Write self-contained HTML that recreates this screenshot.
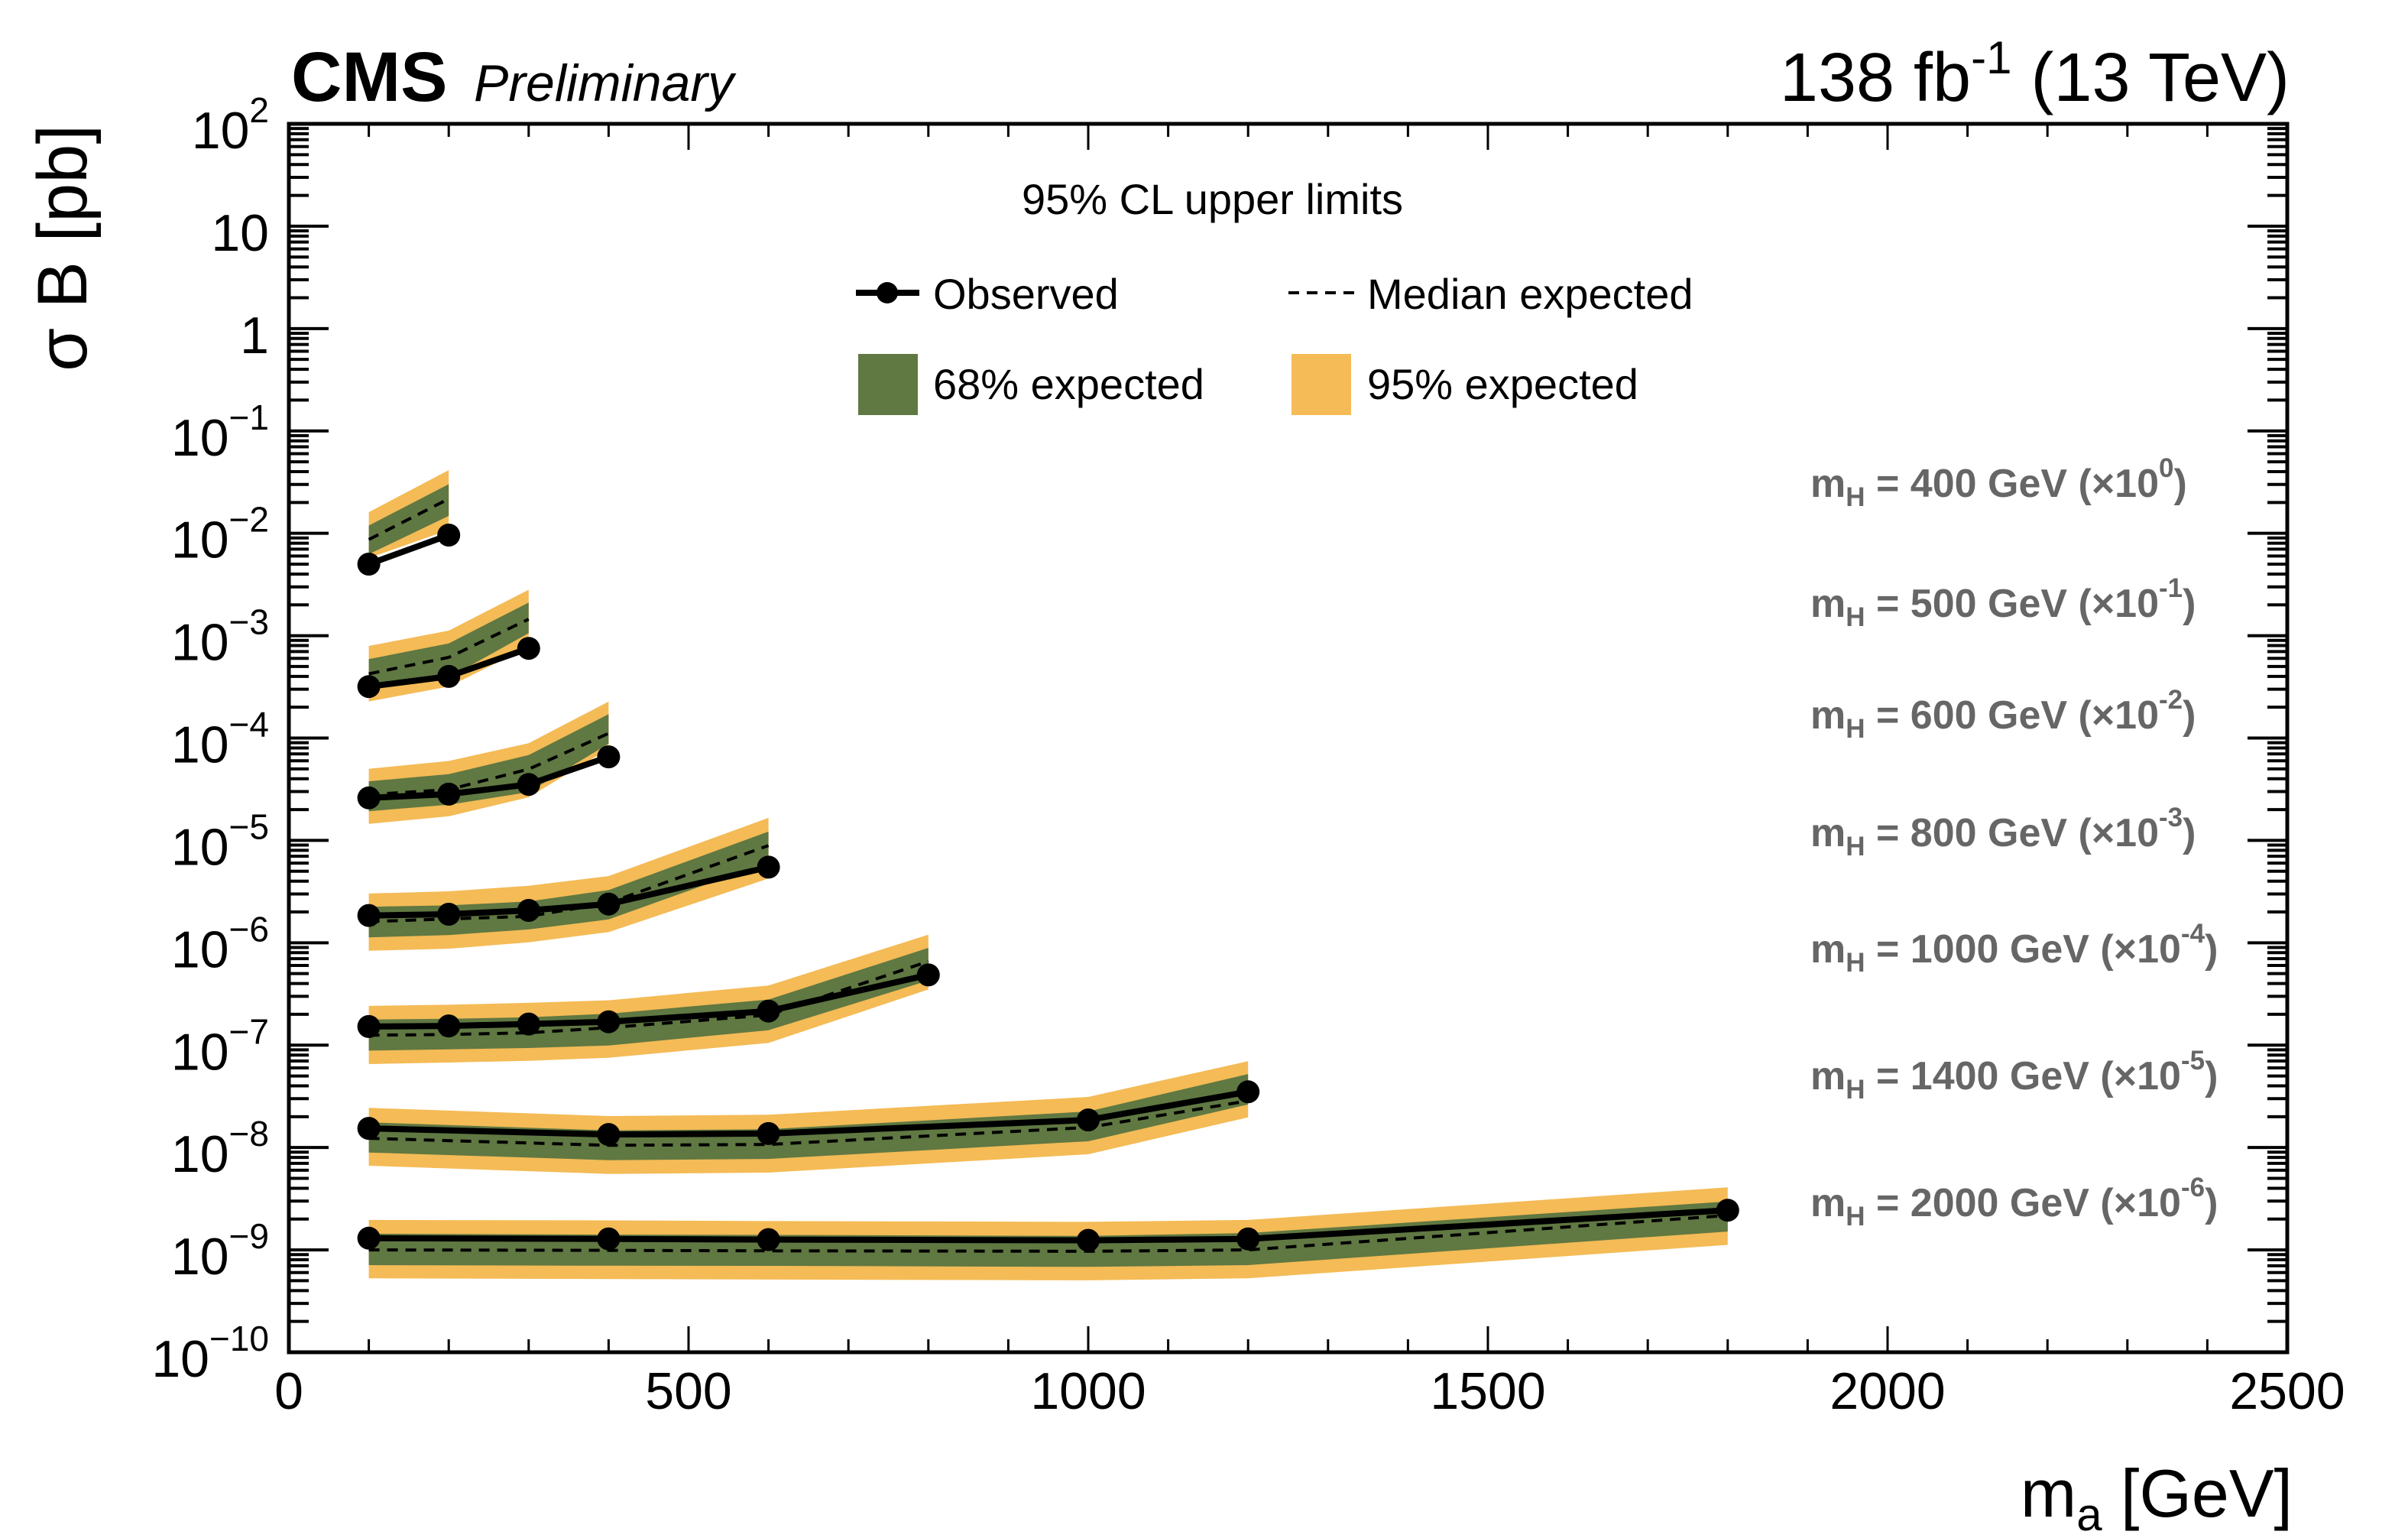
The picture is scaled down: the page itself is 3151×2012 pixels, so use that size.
<!DOCTYPE html>
<html><head><meta charset="utf-8">
<style>
html,body{margin:0;padding:0;background:#fff;}
svg{display:block;font-family:"Liberation Sans",Arial,sans-serif;}
</style></head>
<body>
<svg id="chart" width="3151" height="2012" viewBox="0 0 3151 2012" xmlns="http://www.w3.org/2000/svg">
<rect x="0" y="0" width="3151" height="2012" fill="#fff"/>
<g id="bands"></g>
<g id="lines"></g>
<g id="axes"></g>
<text x="381" y="132" font-size="92" font-weight="bold">CMS</text>
<text x="620" y="132" font-size="68" font-style="italic">Preliminary</text>
<text x="2996" y="132" font-size="90" text-anchor="end">138 fb<tspan font-size="60" dy="-36">-1</tspan><tspan dy="36"> (13 TeV)</tspan></text>
<text transform="translate(113,163) rotate(-90)" font-size="92" text-anchor="end">σ B [pb]</text>
<text x="3000" y="1984" font-size="88" text-anchor="end">m<tspan font-size="60" dy="18">a</tspan><tspan dy="-18">  [GeV]</tspan></text>
<g id="legend">
<text x="1337" y="280" font-size="56">95% CL upper limits</text>
<line x1="1120" y1="383" x2="1203" y2="383" stroke="#000" stroke-width="8"/>
<circle cx="1161" cy="383" r="14" fill="#000"/>
<text x="1221" y="404" font-size="56">Observed</text>
<line x1="1686" y1="383" x2="1772" y2="383" stroke="#000" stroke-width="4" stroke-dasharray="14,10"/>
<text x="1789" y="404" font-size="56">Median expected</text>
<rect x="1123" y="463" width="78" height="80" fill="#607842"/>
<text x="1221" y="522" font-size="56">68% expected</text>
<rect x="1690" y="463" width="78" height="80" fill="#f4bb56"/>
<text x="1789" y="522" font-size="56">95% expected</text>
</g>
<g fill="#666" font-weight="bold" font-size="52">
<text x="2369" y="650">m<tspan font-size="35" dy="12">H</tspan><tspan dy="-12"> = 400 GeV (×10</tspan><tspan font-size="35" dy="-26">0</tspan><tspan dy="26">)</tspan></text>
<text x="2369" y="807">m<tspan font-size="35" dy="12">H</tspan><tspan dy="-12"> = 500 GeV (×10</tspan><tspan font-size="35" dy="-26">-1</tspan><tspan dy="26">)</tspan></text>
<text x="2369" y="953">m<tspan font-size="35" dy="12">H</tspan><tspan dy="-12"> = 600 GeV (×10</tspan><tspan font-size="35" dy="-26">-2</tspan><tspan dy="26">)</tspan></text>
<text x="2369" y="1107">m<tspan font-size="35" dy="12">H</tspan><tspan dy="-12"> = 800 GeV (×10</tspan><tspan font-size="35" dy="-26">-3</tspan><tspan dy="26">)</tspan></text>
<text x="2369" y="1259">m<tspan font-size="35" dy="12">H</tspan><tspan dy="-12"> = 1000 GeV (×10</tspan><tspan font-size="35" dy="-26">-4</tspan><tspan dy="26">)</tspan></text>
<text x="2369" y="1425">m<tspan font-size="35" dy="12">H</tspan><tspan dy="-12"> = 1400 GeV (×10</tspan><tspan font-size="35" dy="-26">-5</tspan><tspan dy="26">)</tspan></text>
<text x="2369" y="1591">m<tspan font-size="35" dy="12">H</tspan><tspan dy="-12"> = 2000 GeV (×10</tspan><tspan font-size="35" dy="-26">-6</tspan><tspan dy="26">)</tspan></text>
</g>
</svg>
<script>
// ---- data (scaled cross-section limits, pb) ----
const seriesNames = ["mH400","mH500","mH600","mH800","mH1000","mH1400","mH2000"];
const mass400 = [100,200];
const obs400 = [5.0e-3,9.6e-3];
const exp400 = [8.7e-3,2.17e-2];
const lo68_400 = [6.25e-3,1.48e-2];
const hi68_400 = [1.19e-2,3.02e-2];
const lo95_400 = [5.74e-3,1.08e-2];
const hi95_400 = [1.61e-2,4.14e-2];

const mass500 = [100,200,300];
const obs500 = [3.18e-4,4.0e-4,7.52e-4];
const exp500 = [4.24e-4,6.14e-4,1.45e-3];
const lo68_500 = [3.37e-4,3.89e-4,1.06e-3];
const hi68_500 = [5.9e-4,8.4e-4,2.11e-3];
const lo95_500 = [2.28e-4,3.18e-4,7.76e-4];
const hi95_500 = [7.94e-4,1.12e-3,2.81e-3];

const mass600 = [100,200,300,400];
const obs600 = [2.6e-5,2.83e-5,3.52e-5,6.55e-5];
const exp600 = [2.8e-5,3.14e-5,4.97e-5,1.11e-4];
const lo68_600 = [1.93e-5,2.23e-5,2.96e-5,8.81e-5];
const hi68_600 = [3.78e-5,4.44e-5,6.81e-5,1.71e-4];
const lo95_600 = [1.45e-5,1.72e-5,2.64e-5,7.85e-5];
const hi95_600 = [5.01e-5,5.97e-5,8.91e-5,2.27e-4];

const mass800 = [100,200,300,400,600];
const obs800 = [1.85e-6,1.9e-6,2.07e-6,2.39e-6,5.48e-6];
const exp800 = [1.61e-6,1.71e-6,1.81e-6,2.45e-6,8.91e-6];
const lo68_800 = [1.13e-6,1.19e-6,1.35e-6,1.69e-6,6.14e-6];
const hi68_800 = [2.25e-6,2.32e-6,2.53e-6,3.27e-6,1.22e-5];
const lo95_800 = [8.36e-7,8.75e-7,1.01e-6,1.27e-6,4.24e-6];
const hi95_800 = [3.03e-6,3.18e-6,3.61e-6,4.48e-6,1.66e-5];

const mass1000 = [100,200,300,400,600,800];
const obs1000 = [1.52e-7,1.54e-7,1.61e-7,1.69e-7,2.15e-7,4.85e-7];
const exp1000 = [1.25e-7,1.27e-7,1.32e-7,1.48e-7,1.97e-7,6.58e-7];
const lo68_1000 = [8.85e-8,9.1e-8,9.38e-8,9.93e-8,1.4e-7,4.28e-7];
const hi68_1000 = [1.78e-7,1.81e-7,1.87e-7,2.03e-7,2.79e-7,8.91e-7];
const lo95_1000 = [6.53e-8,6.76e-8,7.03e-8,7.53e-8,1.05e-7,3.5e-7];
const hi95_1000 = [2.42e-7,2.48e-7,2.59e-7,2.74e-7,3.82e-7,1.2e-6];

const mass1400 = [100,400,600,1000,1200];
const obs1400 = [1.54e-8,1.34e-8,1.37e-8,1.86e-8,3.5e-8];
const exp1400 = [1.23e-8,1.05e-8,1.07e-8,1.57e-8,2.86e-8];
const lo68_1400 = [8.93e-9,7.53e-9,7.74e-9,1.15e-8,2.63e-8];
const hi68_1400 = [1.76e-8,1.47e-8,1.51e-8,2.25e-8,5.22e-8];
const lo95_1400 = [6.64e-9,5.52e-9,5.69e-9,8.59e-9,1.97e-8];
const hi95_1400 = [2.44e-8,2.03e-8,2.09e-8,3.12e-8,6.97e-8];

const mass2000 = [100,400,600,1000,1200,1800];
const obs2000 = [1.3e-9,1.28e-9,1.26e-9,1.24e-9,1.28e-9,2.44e-9];
const exp2000 = [1.0e-9,9.9e-10,9.8e-10,9.7e-10,1.0e-9,2.17e-9];
const lo68_2000 = [7.1e-10,7.0e-10,6.98e-10,6.82e-10,7.1e-10,1.51e-9];
const hi68_2000 = [1.44e-9,1.41e-9,1.4e-9,1.37e-9,1.46e-9,2.97e-9];
const lo95_2000 = [5.27e-10,5.19e-10,5.13e-10,5.04e-10,5.27e-10,1.12e-9];
const hi95_2000 = [1.96e-9,1.94e-9,1.91e-9,1.88e-9,1.96e-9,4.08e-9];

const xTickValues = [0,500,1000,1500,2000,2500];
const yTickExponents = [-10,-9,-8,-7,-6,-5,-4,-3,-2,-1,0,1,2];

const allSeries = [
 [mass400,obs400,exp400,lo68_400,hi68_400,lo95_400,hi95_400],
 [mass500,obs500,exp500,lo68_500,hi68_500,lo95_500,hi95_500],
 [mass600,obs600,exp600,lo68_600,hi68_600,lo95_600,hi95_600],
 [mass800,obs800,exp800,lo68_800,hi68_800,lo95_800,hi95_800],
 [mass1000,obs1000,exp1000,lo68_1000,hi68_1000,lo95_1000,hi95_1000],
 [mass1400,obs1400,exp1400,lo68_1400,hi68_1400,lo95_1400,hi95_1400],
 [mass2000,obs2000,exp2000,lo68_2000,hi68_2000,lo95_2000,hi95_2000]
];

// ---- axes ----
const X0=378, X1=2993, Y0=1769, Y1=162;
const XMIN=0, XMAX=2500, LMIN=-10, LMAX=2;
function xs(v){return X0+(v-XMIN)/(XMAX-XMIN)*(X1-X0);}
function ys(v){return Y0-(Math.log10(v)-LMIN)/(LMAX-LMIN)*(Y0-Y1);}
const NS="http://www.w3.org/2000/svg";
function mk(tag,attrs,parent){const e=document.createElementNS(NS,tag);for(const k in attrs)e.setAttribute(k,attrs[k]);parent.appendChild(e);return e;}

const bands=document.getElementById('bands');
const lines=document.getElementById('lines');
const axes=document.getElementById('axes');

function bandPath(m,lo,hi){
  let d='';
  for(let i=0;i<m.length;i++) d+=(i?'L':'M')+xs(m[i]).toFixed(1)+','+ys(hi[i]).toFixed(1);
  for(let i=m.length-1;i>=0;i--) d+='L'+xs(m[i]).toFixed(1)+','+ys(lo[i]).toFixed(1);
  return d+'Z';
}
function linePts(m,v){return m.map((x,i)=>xs(x).toFixed(1)+','+ys(v[i]).toFixed(1)).join(' ');}

allSeries.forEach((s,si)=>{
  const [m,obs,ex,l68,h68,l95,h95]=s;
  const nm=seriesNames[si];
  const b95=mk('path',{d:bandPath(m,l95,h95),fill:'#f4bb56'},bands);
  
  
  const b68=mk('path',{d:bandPath(m,l68,h68),fill:'#607842'},bands);
  
  
  const le=mk('polyline',{points:linePts(m,ex),fill:'none',stroke:'#000','stroke-width':4,'stroke-dasharray':'14,10'},lines);
  
  
  const lo=mk('polyline',{points:linePts(m,obs),fill:'none',stroke:'#000','stroke-width':8,'stroke-linejoin':'round'},lines);
  
  
  m.forEach((x,i)=>{
    const c=mk('circle',{cx:xs(x).toFixed(1),cy:ys(obs[i]).toFixed(1),r:15,fill:'#000'},lines);
    
    
  });
});

// frame
const frame=mk('rect',{x:X0,y:Y1,width:X1-X0,height:Y0-Y1,fill:'none',stroke:'#000','stroke-width':5},axes);



// x ticks
for(let v=0; v<=XMAX; v+=100){
  const major=(v%500===0);
  const L=major?34:17;
  const x=xs(v);
  const t1=mk('line',{x1:x,y1:Y0,x2:x,y2:Y0-L,stroke:'#000','stroke-width':3},axes);
  
  
  const t2=mk('line',{x1:x,y1:Y1,x2:x,y2:Y1+L,stroke:'#000','stroke-width':3},axes);
  
  
}
xTickValues.forEach(v=>{
  const t=mk('text',{x:xs(v),y:1843,'font-size':68,'text-anchor':'middle'},axes);
  t.textContent=String(v);
  
  
});

// y ticks
for(let e=LMIN;e<LMAX;e++){
  for(let k=1;k<10;k++){
    const v=k*Math.pow(10,e);
    const y=ys(v);
    const L=(k===1)?52:26;
    const a=mk('line',{x1:X0,y1:y,x2:X0+L,y2:y,stroke:'#000','stroke-width':4},axes);
    
    
    const b=mk('line',{x1:X1,y1:y,x2:X1-L,y2:y,stroke:'#000','stroke-width':4},axes);
    
    
  }
}
yTickExponents.forEach(e=>{
  const y=ys(Math.pow(10,e));
  const t=mk('text',{x:352,y:y+32,'font-size':68,'text-anchor':'end'},axes);
  
  
  if(e===0){t.textContent='1';}
  else if(e===1){t.textContent='10';}
  else{
    t.appendChild(document.createTextNode('10'));
    const sp=document.createElementNS(NS,'tspan');
    sp.setAttribute('font-size','46');
    sp.setAttribute('dy','-34');
    sp.textContent=(e<0?'\u2212':'')+Math.abs(e);
    t.appendChild(sp);
  }
});
</script>
</body></html>
